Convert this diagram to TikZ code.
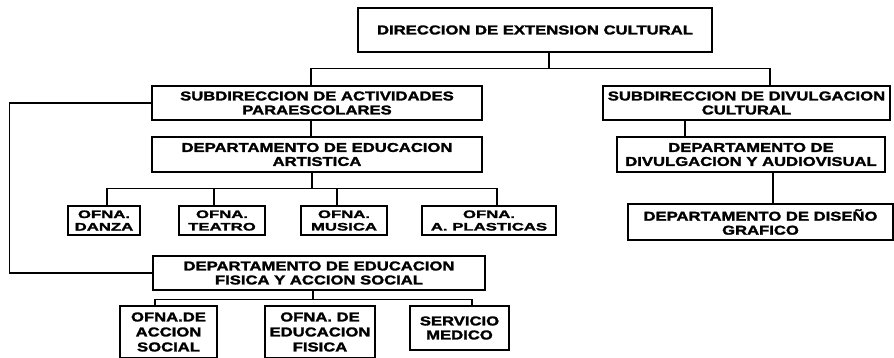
\documentclass[tikz,border=0pt]{standalone}
\usepackage{fontspec}
\newfontfamily\orgfont[FakeStretch=1.3,BoldFeatures={FakeStretch=1.3,FakeBold=2}]{Liberation Sans}
\newfontfamily\ofnafont[FakeStretch=1.55,BoldFeatures={FakeStretch=1.55,FakeBold=2}]{Liberation Sans}

\begin{document}
\begin{tikzpicture}[x=1pt, y=-1pt, line width=1.3pt,
	unit/.style={draw, align=center, inner sep=0pt, font=\orgfont\bfseries\fontsize{12.8}{14}\selectfont},
	tall/.style={unit, font=\orgfont\bfseries\fontsize{12.8}{15}\selectfont},
	ofna/.style={unit, font=\ofnafont\bfseries\fontsize{10.8}{12.5}\selectfont}]
	\useasboundingbox (0,0) rectangle (894,357);
	% direccion y subdirecciones
	\node[unit, minimum width=354pt, minimum height=44pt] (dir) at (535,30) {DIRECCION DE EXTENSION CULTURAL};
	\node[unit, minimum width=330pt, minimum height=34pt] (subL) at (317,103) {SUBDIRECCION DE ACTIVIDADES\\PARAESCOLARES};
	\node[unit, minimum width=287pt, minimum height=34pt] (subR) at (746.5,103) {SUBDIRECCION DE DIVULGACION\\CULTURAL};
	% departamentos
	\node[unit, minimum width=330pt, minimum height=35pt] (depArt) at (317,154.5) {DEPARTAMENTO DE EDUCACION\\ARTISTICA};
	\node[unit, minimum width=268pt, minimum height=35pt] (depDiv) at (751,154.5) {DEPARTAMENTO DE\\DIVULGACION Y AUDIOVISUAL};
	\node[unit, minimum width=265pt, minimum height=36pt] (depDis) at (760.5,222) {DEPARTAMENTO DE DISEÑO\\GRAFICO};
	\node[unit, minimum width=332pt, minimum height=34pt] (depFis) at (319,273) {DEPARTAMENTO DE EDUCACION\\FISICA Y ACCION SOCIAL};
	% oficinas
	\node[ofna, minimum width=72pt, minimum height=29pt] (ofDan) at (104,220.5) {OFNA.\\DANZA};
	\node[ofna, minimum width=86pt, minimum height=29pt] (ofTea) at (222,220.5) {OFNA.\\TEATRO};
	\node[ofna, minimum width=86pt, minimum height=29pt] (ofMus) at (344,220.5) {OFNA.\\MUSICA};
	\node[ofna, minimum width=134pt, minimum height=29pt] (ofPla) at (489,220.5) {OFNA.\\A. PLASTICAS};
	\node[tall, minimum width=97pt, minimum height=52pt] (ofAcc) at (168.5,332) {OFNA.DE\\ACCION\\SOCIAL};
	\node[tall, minimum width=110pt, minimum height=52pt] (ofEdu) at (320,332) {OFNA. DE\\EDUCACION\\FISICA};
	\node[unit, minimum width=99pt, minimum height=44pt] (ofSer) at (459.5,328) {SERVICIO\\MEDICO};
	% lineas
	\draw ([xshift=14pt]dir.south) -- ++(0,16) coordinate (busA);
	\draw ([xshift=-6pt]subL.north) |- (busA) -| ([xshift=23.5pt]subR.north);
	\draw ([xshift=-6pt]subL.south) -- ([xshift=-6pt]depArt.north);
	\draw ([xshift=-61.5pt]subR.south) -- ([xshift=-66pt]depDiv.north);
	\draw ([xshift=22pt]depDiv.south) -- ([xshift=12.5pt]depDis.north);
	\draw (subL.west) -- ++(-142,0) |- (depFis.west);
	\draw ([xshift=-5pt]depArt.south) -- ++(0,16) coordinate (busB);
	\foreach \n/\s in {ofDan/3, ofTea/-8, ofMus/-7, ofPla/8}
		\draw (busB) -| ([xshift=\s pt]\n.north);
	\draw ([xshift=-6pt]depFis.south) -- ++(0,9) coordinate (busC);
	\draw (busC) -| ([xshift=-13.5pt]ofAcc.north);
	\draw (busC) -| ([xshift=12.5pt]ofSer.north);
\end{tikzpicture}
\end{document}
